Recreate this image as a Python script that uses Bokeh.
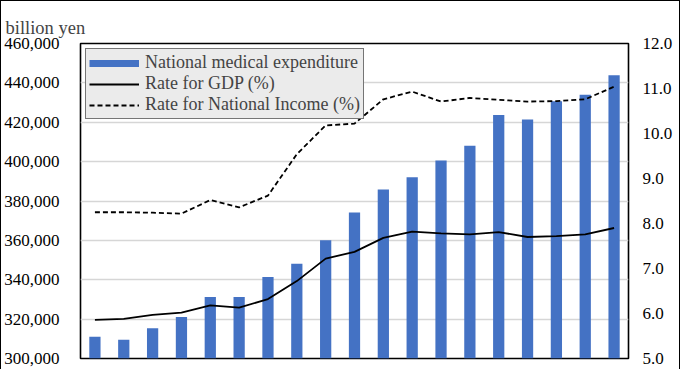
from bokeh.plotting import figure
from bokeh.models import (Range1d, LinearAxis, FixedTicker, NumeralTickFormatter,
                          PrintfTickFormatter, Legend, LegendItem, FactorRange)
from bokeh.embed import file_html
from bokeh.resources import INLINE

# ---- data ----
years = [str(y) for y in range(2001, 2020)]
expenditure = [310998, 309507, 315375, 321111, 331289, 331276, 341360, 348084,
               360067, 374202, 385850, 392117, 400610, 408071, 423644, 421381,
               430710, 433949, 443895]
rate_gdp = [5.86, 5.88, 5.97, 6.02, 6.18, 6.13, 6.32, 6.72, 7.22, 7.37, 7.68,
            7.82, 7.78, 7.76, 7.81, 7.70, 7.72, 7.76, 7.90]
rate_ni = [8.25, 8.25, 8.24, 8.22, 8.52, 8.36, 8.62, 9.54, 10.18, 10.22, 10.76,
           10.93, 10.71, 10.79, 10.75, 10.71, 10.72, 10.76, 11.04]
left_ticks = [300000, 320000, 340000, 360000, 380000, 400000, 420000, 440000, 460000]
right_ticks = [5, 6, 7, 8, 9, 10, 11, 12]
labels = ["National medical expenditure", "Rate for GDP (%)", "Rate for National Income (%)"]
unit_label = "billion yen"

FONT = "Liberation Serif"
BLUE = "#4472C4"
W, H = 680, 369

p = figure(width=W, height=H, x_range=FactorRange(*years, range_padding=0),
           y_range=Range1d(left_ticks[0], left_ticks[-1]),
           output_backend="svg", toolbar_location=None,
           min_border_left=75, min_border_right=53, min_border_top=42, min_border_bottom=12)
p.extra_y_ranges = {"rate": Range1d(right_ticks[0], right_ticks[-1])}
p.styles = {"border": "1px solid black", "border-bottom": "none", "box-sizing": "border-box"}

p.title.text = unit_label
p.title.align = "left"
p.title.offset = -75
p.title.text_font = FONT
p.title.text_font_size = "18.5px"
p.title.text_font_style = "normal"
p.title.standoff = 12

p.outline_line_color = "black"
p.outline_line_width = 1.6
p.xaxis.visible = False
p.xgrid.visible = False
p.ygrid.grid_line_color = "#d6d6d6"
p.ygrid.grid_line_width = 1.5

ya = p.yaxis[0]
ya.ticker = FixedTicker(ticks=left_ticks)
ya.formatter = NumeralTickFormatter(format="0,0")

ra = LinearAxis(y_range_name="rate", ticker=FixedTicker(ticks=right_ticks),
                formatter=PrintfTickFormatter(format="%.1f"))
p.add_layout(ra, "right")

for ax, st in ((ya, 15), (ra, 8)):
    ax.axis_line_color = None
    ax.major_tick_line_color = None
    ax.minor_tick_line_color = None
    ax.major_label_text_font = FONT
    ax.major_label_text_font_size = "17px"
    ax.major_label_text_color = "black"
    ax.major_label_standoff = st

p.vbar(x=years, top=expenditure, bottom=left_ticks[0], width=0.39,
       fill_color=BLUE, line_color=None)
r_gdp = p.line(x=years, y=rate_gdp, y_range_name="rate", line_color="black", line_width=1.8)
r_ni = p.line(x=years, y=rate_ni, y_range_name="rate", line_color="black", line_width=1.8,
              line_dash="5 3")
# legend swatch for the bars: a thin band as in the reference (drawn off-range, so only the key shows)
r_bar_key = p.line(x=years[:2], y=[0, 0], line_color=BLUE, line_width=7)

legend = Legend(items=[LegendItem(label=labels[0], renderers=[r_bar_key]),
                       LegendItem(label=labels[1], renderers=[r_gdp]),
                       LegendItem(label=labels[2], renderers=[r_ni])],
                location="top_left", margin=5, padding=3, spacing=0,
                glyph_width=50, glyph_height=16, label_height=16, label_standoff=6,
                border_line_color="black", border_line_width=1.8,
                background_fill_color="#ebebeb", background_fill_alpha=1.0,
                label_text_font=FONT, label_text_font_size="18px",
                label_text_line_height=1.0)
p.add_layout(legend, "center")

open("out.html", "w").write(file_html(p, INLINE))
